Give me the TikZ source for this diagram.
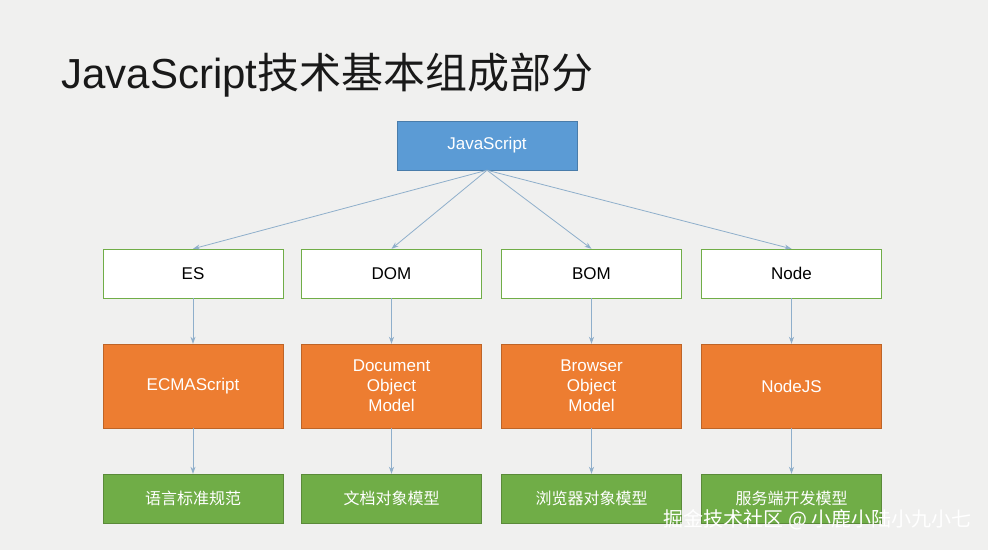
\documentclass[tikz,border=0pt]{standalone}
\usepackage{fontspec}
\setmainfont{Liberation Sans}
\newfontfamily\cjk{Noto Sans CJK SC}
\usetikzlibrary{arrows.meta}
\definecolor{bg}{HTML}{F0F0EF}
\definecolor{blu}{HTML}{5B9BD5}
\definecolor{org}{HTML}{ED7D31}
\definecolor{grn}{HTML}{70AD47}
\definecolor{arr}{HTML}{8FAFCB}
\begin{document}
\begin{tikzpicture}[x=1pt,y=-1pt,
 box/.style={draw, minimum width=180pt, minimum height=49pt, inner sep=0pt, align=center, font=\fontsize{17}{20}\selectfont},
 top/.style={box, fill=blu, draw=blu!80!black, text=white},
 mid/.style={box, fill=white, draw=grn},
 ora/.style={box, fill=org, draw=org!80!black, text=white, minimum height=84pt},
 bot/.style={box, fill=grn, draw=grn!80!black, text=white, font=\cjk\fontsize{16}{20}\selectfont},
 ar/.style={draw=arr, line width=0.8pt, -{Stealth[length=7pt,width=5pt]}}]
\fill[bg] (0,0) rectangle (988,550);
\node[anchor=west, font=\fontsize{42}{48}\selectfont, text=black!90] (title) at (58,75) {JavaScript{\cjk 技术基本组成部分}};
\node[top] (js) at (487,145.5) {JavaScript};
\foreach \n/\x/\a/\b/\c in {es/193/ES/ECMAScript/语言标准规范, dom/391.5/DOM/{Document\\Object\\Model}/文档对象模型, bom/591.5/BOM/{Browser\\Object\\Model}/浏览器对象模型, node/791.5/Node/NodeJS/服务端开发模型}{
 \node[mid] (\n2) at (\x,273.5) {\a};
 \node[ora] (\n3) at (\x,386) {\b};
 \node[bot] (\n4) at (\x,498.5) {\c};
 \draw[ar] (js.south) -- (\n2.north);
 \draw[ar] (\n2.south) -- (\n3.north);
 \draw[ar] (\n3.south) -- (\n4.north);
}
\node[anchor=east, font=\cjk\fontsize{20}{24}\selectfont, text=white] (wm) at (975,520) {掘金技术社区 @ 小鹿小陆小九小七};
\end{tikzpicture}
\end{document}
